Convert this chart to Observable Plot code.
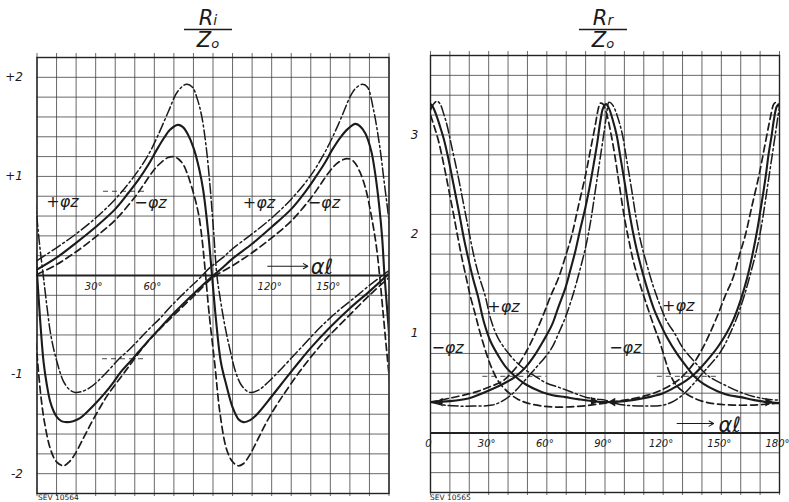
<!DOCTYPE html>
<html><head><meta charset="utf-8">
<script src="https://cdn.jsdelivr.net/npm/d3@7"></script>
<script src="https://cdn.jsdelivr.net/npm/@observablehq/plot@0.6"></script>
<style>
body{margin:0;background:#fff;}
#wrap{display:flex;width:789px;height:502px;overflow:hidden;}
</style></head><body><div id="wrap"></div>
<script>
// ---------- LEFT PANEL: Ri/Zo ----------
const riSolidA_x = [0,10,20,30,40,47,52,57,61,65,68,72,74.5,77,80,83,85,87.5,89.5,91.5,94,97,100,103,105.5,109,113,118,124,130,134.5,140,150,160,170,180];
const riSolidA_y = [0.06,0.18,0.33,0.49,0.67,0.84,0.97,1.12,1.26,1.39,1.47,1.52,1.50,1.43,1.29,1.07,0.86,0.44,0.0,-0.44,-0.87,-1.12,-1.33,-1.45,-1.48,-1.46,-1.39,-1.27,-1.12,-0.97,-0.86,-0.73,-0.52,-0.33,-0.16,0.02];
const riSolidB_x = [-3,-1.5,0,1.5,3.4,5,6.7,8.5,10.2,12.5,15.2,18.5,22,26,30.5,35,39,43,47.6,52,57.8,63,68,73,78.2,83,88.4,95,100,110,120,130,137,142,147,151,155,159,162.8,165,168,171,173,175,176.5,177.7,179.5,181];
const riSolidB_y = [0.85,0.45,0.02,-0.42,-0.88,-1.1,-1.27,-1.37,-1.43,-1.47,-1.48,-1.47,-1.44,-1.37,-1.28,-1.18,-1.08,-0.97,-0.87,-0.77,-0.64,-0.53,-0.42,-0.32,-0.22,-0.13,-0.03,0.08,0.17,0.32,0.49,0.67,0.84,0.98,1.13,1.27,1.39,1.48,1.53,1.51,1.43,1.25,1.02,0.7,0.38,0.0,-0.45,-0.85];
const riDashdotA_x = [0,10,20,30,40,50,57,62,67.3,72,76.5,79.5,82,84.2,86.5,88.5,90.3,92,94,96,98.6,102,105,108.8,113,118,125,134.5,145,155,162,170,180];
const riDashdotA_y = [0.15,0.28,0.42,0.58,0.77,1.01,1.22,1.42,1.66,1.86,1.93,1.9,1.78,1.61,1.3,0.9,0.45,0.0,-0.27,-0.5,-0.74,-1.0,-1.12,-1.18,-1.16,-1.08,-0.94,-0.74,-0.52,-0.34,-0.23,-0.1,0.05];
const riDashdotB_x = [-4,-2,0,1.5,3.2,5,6.8,8.5,10.2,12,13.6,16.5,19.5,23,27.2,32,37.4,42,47.6,52,57.8,63,68,73,78.2,83,88.4,95,100,110,120,130,140,146,150,154,157,160,163,166.5,169,172,175.2,177.5,180,182];
const riDashdotB_y = [1.32,0.95,0.57,0.28,0.0,-0.3,-0.57,-0.74,-0.87,-0.99,-1.07,-1.15,-1.18,-1.17,-1.13,-1.05,-0.94,-0.84,-0.74,-0.65,-0.53,-0.43,-0.32,-0.22,-0.12,-0.03,0.08,0.18,0.27,0.42,0.58,0.77,1.01,1.2,1.35,1.52,1.66,1.8,1.89,1.93,1.90,1.68,1.31,0.95,0.55,0.15];
const riDashedA_x = [0,10,20,30,40,50,55,60,64,67,69.5,72,74.8,77,79,81,82.8,84.5,86,88,91,93.5,96.9,100,102.9,105.5,108.8,113,117.4,121.5,125.8,134.3,147,159.8,170,180];
const riDashedA_y = [0.01,0.11,0.24,0.39,0.56,0.79,0.93,1.07,1.15,1.19,1.20,1.18,1.12,1.02,0.9,0.76,0.6,0.35,0.05,-0.38,-0.91,-1.38,-1.75,-1.88,-1.92,-1.90,-1.81,-1.65,-1.48,-1.34,-1.21,-0.97,-0.66,-0.40,-0.2,-0.02];
const riDashedB_x = [-4,-2,0,2,4,7,10,13.6,16.5,19.5,24,28,32,36,45,57,70,80,90,100,110,120,130,140,145,150,154,158.7,162,165,168,171,173.5,175.2,177,179,181];
const riDashedB_y = [0.1,-0.35,-0.8,-1.22,-1.5,-1.76,-1.88,-1.92,-1.88,-1.8,-1.63,-1.48,-1.34,-1.21,-0.97,-0.66,-0.40,-0.21,-0.02,0.1,0.23,0.38,0.55,0.78,0.92,1.06,1.14,1.18,1.15,1.05,0.88,0.6,0.3,0.0,-0.38,-0.8,-1.2];

const riYTicks = [2, 1, -1, -2];
const riYTickLabels = ["+2", "+1", "-1", "-2"];
const riXTicks = [30, 60, 120, 150];
const riXTickLabels = ["30°", "60°", "120°", "150°"];
const riLabelX = [13, 58, 113.5, 146.7];
const riLabelY = [0.74, 0.73, 0.73, 0.73];
const riLabelText = ["+φz", "−φz", "+φz", "−φz"];
const riMarkY = [0.85, -0.84];
const riMarkX1 = [34, 33.5];
const riMarkX2 = [56.5, 54.5];

// ---------- RIGHT PANEL: Rr/Zo ----------
const rrF1Solid_x = [0,1,3,5,7,9,11,13,15,17,19.2,22,24.4,27.5,31,35.2,39,43,49,57.6,63,69.6,76,83.3,90,100,110,120,127,132,136,140,144,148,152,156,160,163.3,166,168.4,170,171.8,173,174.4,176,177,178.7,180];
const rrF1Solid_y = [3.31,3.29,3.2,3.08,2.95,2.78,2.59,2.39,2.19,1.98,1.78,1.55,1.38,1.12,0.92,0.77,0.66,0.58,0.49,0.41,0.38,0.36,0.34,0.32,0.31,0.32,0.35,0.4,0.47,0.53,0.59,0.67,0.76,0.86,0.98,1.13,1.34,1.56,1.79,2.03,2.22,2.44,2.6,2.81,3.0,3.14,3.29,3.31];
const rrF1Dashed_x = [0,2,4,6,8,10,12,14,16,18,20.5,23,25,28,31,35,40,45,50,58,66,78,90,100,112,120,127,130,135,140,144,148,152,156,159.5,162.5,165.5,169.5,172,174.5,176,177,178.5,180];
const rrF1Dashed_y = [3.2,3.08,2.95,2.78,2.59,2.39,2.19,1.98,1.78,1.6,1.38,1.2,1.05,0.85,0.68,0.52,0.41,0.34,0.3,0.27,0.26,0.27,0.3,0.33,0.38,0.44,0.52,0.57,0.68,0.84,1.0,1.18,1.38,1.56,1.8,2.0,2.26,2.6,2.85,3.1,3.24,3.31,3.33,3.28];
const rrF1Dashdot_x = [0,1.5,3.4,5,7,8.5,10.2,12.2,14.2,16.2,18.2,20.3,22.4,25,28.2,31,35,42,48,54,60,66,73,80,86,90,95,100,110,120,125.5,130.5,134.5,139,143.5,147.5,151,154.5,158,161.5,165,168.5,171,173.5,175.5,177.8,179.3,180.5];
const rrF1Dashdot_y = [3.25,3.31,3.34,3.31,3.2,3.1,2.95,2.77,2.59,2.39,2.19,1.98,1.78,1.58,1.38,1.15,0.95,0.76,0.65,0.57,0.5,0.46,0.41,0.36,0.34,0.33,0.3,0.28,0.27,0.28,0.32,0.39,0.47,0.57,0.67,0.76,0.86,1.0,1.16,1.36,1.6,1.87,2.12,2.44,2.7,3.0,3.2,3.33];
const rrF2Solid_x = [0,10,20,28,35,40,44,49,54,58,62.7,66,69.6,72,74.7,77,79.9,82,84.2,86,87.6,89,90.5,92,94,96,98,100.5,103,105.5,108.2,111.5,115,118.5,122,127,132.3,136,141,148,154,160,167,174,180];
const rrF2Solid_y = [0.31,0.32,0.35,0.41,0.47,0.52,0.57,0.66,0.79,0.92,1.09,1.27,1.46,1.63,1.83,2.03,2.27,2.47,2.71,2.92,3.14,3.27,3.31,3.27,3.15,3.0,2.77,2.48,2.17,1.92,1.70,1.47,1.26,1.1,0.96,0.8,0.66,0.57,0.49,0.42,0.38,0.36,0.33,0.31,0.30];
const rrF2Dashed_x = [0,10,23,30,37,40,45,50,54,58,62,66,70,73,76,80,82.5,85,86.5,87.6,89,91,93,95,97.5,100,102.5,105,108.5,112,115.5,118.5,121,123,126,130,134,140,148,156,165,174,180];
const rrF2Dashed_y = [0.31,0.35,0.41,0.46,0.52,0.57,0.68,0.84,1.0,1.18,1.38,1.56,1.8,2.0,2.26,2.6,2.85,3.1,3.26,3.32,3.31,3.2,3.02,2.8,2.48,2.17,1.92,1.70,1.47,1.26,1.06,0.9,0.74,0.62,0.5,0.42,0.37,0.32,0.29,0.28,0.28,0.29,0.3];
const rrF2Dashdot_x = [0,7,14.4,22,31.8,37,42,46,50.5,55,59,62.7,66,69.5,73,76.5,80,82.5,85,87,89.3,90.8,92,94,97,99,101,103.5,106,108.5,111.5,115,118.5,122,126,130,136,143.5,152,159.8,166,173.6,180];
const rrF2Dashdot_y = [0.31,0.28,0.27,0.27,0.28,0.32,0.39,0.47,0.57,0.67,0.76,0.86,1.0,1.16,1.36,1.6,1.87,2.12,2.44,2.7,3.0,3.2,3.33,3.3,3.15,3.0,2.77,2.48,2.17,1.92,1.70,1.47,1.28,1.12,1.0,0.86,0.72,0.57,0.48,0.41,0.37,0.34,0.33];

const rrYTicks = [3, 2, 1];
const rrYTickLabels = ["3", "2", "1"];
const rrXTicks = [0, 30, 60, 90, 120, 150, 180];
const rrXTickLabels = ["0", "30°", "60°", "90°", "120°", "150°", "180°"];
const rrLabelX = [8.8, 37.6, 100.5, 127.8];
const rrLabelY = [0.86, 1.27, 0.86, 1.28];
const rrLabelText = ["−φz", "+φz", "−φz", "+φz"];
const rrMarkY = [0.57, 0.57];
const rrMarkX1 = [27, 117];
const rrMarkX2 = [60, 149];
const rrHeadX = [5, 84, 94, 174];
const rrHeadY = [0.31, 0.32, 0.31, 0.31];
const rrHeadDir = ["left", "right", "left", "right"];

// ---------- helpers ----------
const INK = "#1b1b1b";
const kinds = {
  solid:   {strokeWidth: 2.1},
  dashed:  {strokeWidth: 1.7, strokeDasharray: "7,4"},
  dashdot: {strokeWidth: 1.5, strokeDasharray: "10,3,2,3"}
};
const zipXY = (xs, ys) => xs.map((x, i) => ({x, y: ys[i]}));
const curve = (xs, ys, kind) => Plot.line(zipXY(xs, ys), {
  x: "x", y: "y", curve: "catmull-rom", clip: true, stroke: INK,
  strokeLinecap: "round", ...kinds[kind]
});
const italic = {fontStyle: "italic", fill: INK};

function gridMarks(xDomain, yLo, yHi) {
  const gx = d3.range(xDomain[0], xDomain[1] + 0.01, 10);
  const gy = d3.range(Math.round(yLo * 5), Math.round(yHi * 5) + 1).map(v => v / 5);
  return [
    Plot.ruleX(gx, {stroke: "#3a3a3a", strokeWidth: 0.9, strokeOpacity: 0.85, insetTop: -4, insetBottom: -3}),
    Plot.ruleY(gy, {stroke: "#3a3a3a", strokeWidth: 0.9, strokeOpacity: 0.85}),
    Plot.ruleY([0], {stroke: "#222", strokeWidth: 2}),
    Plot.frame({stroke: "#222", strokeWidth: 1.4})
  ];
}

function addFraction(svg, cx, num, numSub, den, denSub) {
  const g = d3.select(svg).append("g")
    .attr("font-family", "DejaVu Sans, sans-serif").attr("font-style", "italic").attr("fill", INK);
  const t1 = g.append("text").attr("x", cx).attr("y", 25).attr("text-anchor", "middle").attr("font-size", 21);
  t1.append("tspan").text(num);
  t1.append("tspan").attr("font-size", 14).text(numSub);
  g.append("line").attr("x1", cx - 24).attr("x2", cx + 24).attr("y1", 29.5).attr("y2", 29.5)
    .attr("stroke", INK).attr("stroke-width", 1.6);
  const t2 = g.append("text").attr("x", cx).attr("y", 47).attr("text-anchor", "middle").attr("font-size", 21);
  t2.append("tspan").text(den);
  t2.append("tspan").attr("font-size", 13).attr("dy", 1).text(denSub);
}
function addCode(svg, x, text) {
  d3.select(svg).append("text").attr("x", x).attr("y", 500).attr("text-anchor", "start")
    .attr("font-family", "DejaVu Sans, sans-serif").attr("font-size", 7.5).attr("fill", INK).text(text);
}

// ---------- left chart ----------
const riYTickData = riYTicks.map((v, i) => ({v, t: riYTickLabels[i]}));
const riXTickData = riXTicks.map((v, i) => ({v, t: riXTickLabels[i]}));
const riLabelData = riLabelX.map((x, i) => ({x, y: riLabelY[i], t: riLabelText[i]}));
const riMarkData = riMarkY.map((y, i) => ({y, x1: riMarkX1[i], x2: riMarkX2[i]}));

const left = Plot.plot({
  width: 395, height: 502,
  marginLeft: 36.5, marginRight: 6.5, marginTop: 57, marginBottom: 9,
  x: {domain: [0, 180], axis: null},
  y: {domain: [-2.2, 2.2], axis: null},
  style: {background: "#fff", fontFamily: "DejaVu Sans, sans-serif", overflow: "visible"},
  marks: [
    ...gridMarks([0, 180], -2.2, 2.2),
    Plot.ruleY(riMarkData, {y: "y", x1: "x1", x2: "x2", stroke: INK, strokeWidth: 0.8, strokeDasharray: "5,4"}),
    curve(riSolidA_x, riSolidA_y, "solid"),
    curve(riSolidB_x, riSolidB_y, "solid"),
    curve(riDashdotA_x, riDashdotA_y, "dashdot"),
    curve(riDashdotB_x, riDashdotB_y, "dashdot"),
    curve(riDashedA_x, riDashedA_y, "dashed"),
    curve(riDashedB_x, riDashedB_y, "dashed"),
    Plot.text(riYTickData, {x: () => 0, y: "v", text: "t", dx: -14, textAnchor: "end", fontSize: 12, ...italic}),
    Plot.text(riXTickData, {x: "v", y: () => -0.11, text: "t", dx: -2, fontSize: 10, ...italic}),
    Plot.text(riLabelData, {x: "x", y: "y", text: "t", fontSize: 16, ...italic}),
    Plot.arrow([{x1: 118, x2: 138.5, y: 0.094}], {x1: "x1", x2: "x2", y1: "y", y2: "y", stroke: INK, strokeWidth: 1.1, headLength: 7}),
    Plot.text([{x: 140, y: 0.08, t: "αℓ"}], {x: "x", y: "y", text: "t", textAnchor: "start", fontSize: 21, ...italic})
  ]
});
addFraction(left, 208, "R", "i", "Z", "o");
addCode(left, 38, "SEV 10564");

// ---------- right chart ----------
const rrYTickData = rrYTicks.map((v, i) => ({v, t: rrYTickLabels[i]}));
const rrXTickData = rrXTicks.map((v, i) => ({v, t: rrXTickLabels[i]}));
const rrLabelData = rrLabelX.map((x, i) => ({x, y: rrLabelY[i], t: rrLabelText[i]}));
const rrMarkData = rrMarkY.map((y, i) => ({y, x1: rrMarkX1[i], x2: rrMarkX2[i]}));
const rrHeadData = rrHeadX.map((x, i) => ({x, y: rrHeadY[i], d: rrHeadDir[i]}));

const right = Plot.plot({
  width: 394, height: 502,
  marginLeft: 35, marginRight: 10, marginTop: 55, marginBottom: 10,
  x: {domain: [0, 180], axis: null},
  y: {domain: [-0.6, 3.8], axis: null},
  style: {background: "#fff", fontFamily: "DejaVu Sans, sans-serif", overflow: "visible"},
  marks: [
    ...gridMarks([0, 180], -0.6, 3.8),
    Plot.ruleY(rrMarkData, {y: "y", x1: "x1", x2: "x2", stroke: INK, strokeWidth: 0.8, strokeDasharray: "5,4"}),
    curve(rrF1Solid_x, rrF1Solid_y, "solid"),
    curve(rrF2Solid_x, rrF2Solid_y, "solid"),
    curve(rrF1Dashed_x, rrF1Dashed_y, "dashed"),
    curve(rrF2Dashed_x, rrF2Dashed_y, "dashed"),
    curve(rrF1Dashdot_x, rrF1Dashdot_y, "dashdot"),
    curve(rrF2Dashdot_x, rrF2Dashdot_y, "dashdot"),
    Plot.dot(rrHeadData, {x: "x", y: "y", symbol: "triangle", r: 3.2, fill: INK, stroke: "none",
      rotate: d => d.d === "right" ? 90 : -90}),
    Plot.text(rrYTickData, {x: () => 0, y: "v", text: "t", dx: -12, textAnchor: "end", fontSize: 12, ...italic}),
    Plot.text(rrXTickData, {x: "v", y: () => -0.11, text: "t", dx: -2, fontSize: 10, ...italic}),
    Plot.text(rrLabelData, {x: "x", y: "y", text: "t", fontSize: 16, ...italic}),
    Plot.arrow([{x1: 127.2, x2: 146, y: 0.094}], {x1: "x1", x2: "x2", y1: "y", y2: "y", stroke: INK, strokeWidth: 1.1, headLength: 7}),
    Plot.text([{x: 148.5, y: 0.08, t: "αℓ"}], {x: "x", y: "y", text: "t", textAnchor: "start", fontSize: 21, ...italic})
  ]
});
addFraction(right, 208, "R", "r", "Z", "o");
addCode(right, 35, "SEV 10565");

document.getElementById("wrap").append(left, right);
</script></body></html>
